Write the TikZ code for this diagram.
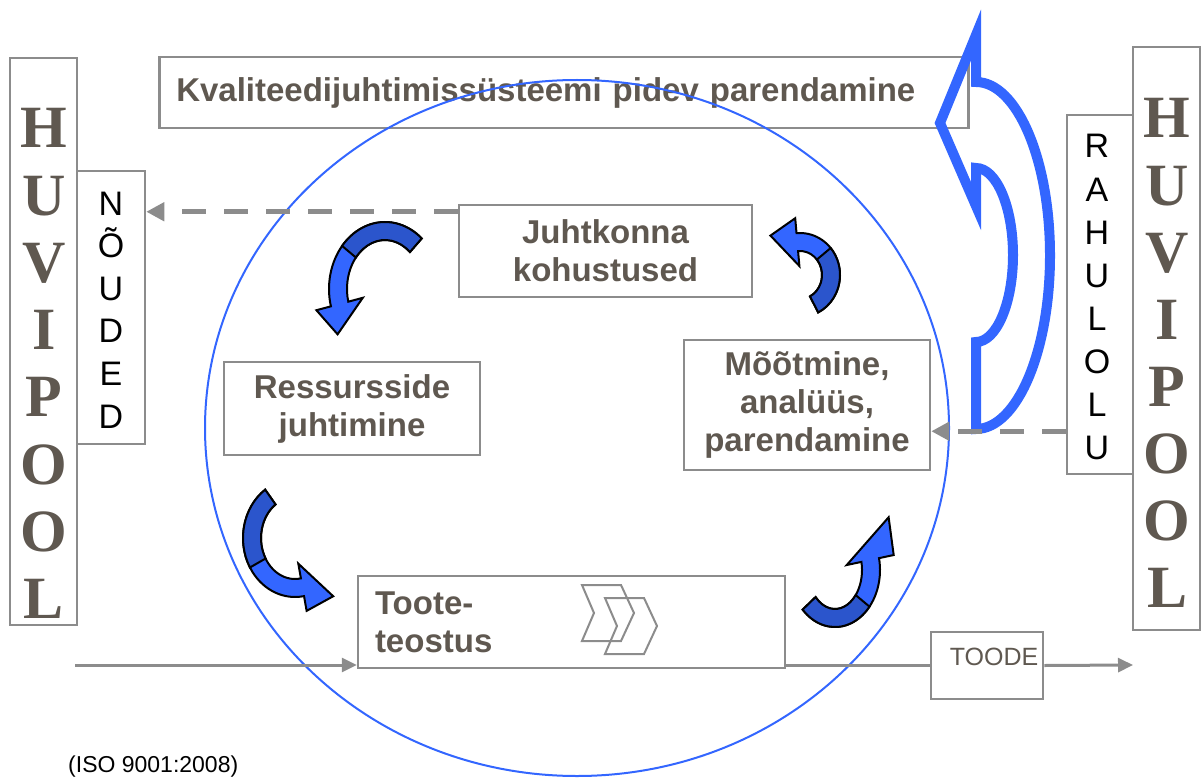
\documentclass[tikz,border=0pt]{standalone}
\usepackage{fontspec}
\setmainfont{Liberation Sans}
\newfontfamily\timesfont{Liberation Serif}
\usetikzlibrary{arrows.meta,calc}

\definecolor{boxgray}{HTML}{8C8C8C}
\definecolor{txtgray}{HTML}{5F5850}
\definecolor{ringblue}{HTML}{3366FF}
\definecolor{curldark}{HTML}{2B55CC}

% curved band arrow: (centre), rx, ry, start, end, tip angle, tip extra, dark split
\newcommand{\curlarrow}[8]{%
  \begin{scope}[shift={#1}]
    \filldraw[curl] (#4:{#2+9} and {#3+9})
      arc[start angle=#4, end angle=#5, x radius=#2+9, y radius=#3+9]
      -- (#5:{#2+24} and {#3+24}) -- (#6:{#2+#7} and {#3+#7})
      -- (#5:{#2-24} and {#3-24}) -- (#5:{#2-9} and {#3-9})
      arc[start angle=#5, end angle=#4, x radius=#2-9, y radius=#3-9] -- cycle;
    \filldraw[curl, fill=curldark] (#4:{#2+9} and {#3+9})
      arc[start angle=#4, end angle=#8, x radius=#2+9, y radius=#3+9]
      -- (#8:{#2-9} and {#3-9})
      arc[start angle=#8, end angle=#4, x radius=#2-9, y radius=#3-9] -- cycle;
  \end{scope}}

\begin{document}
\begin{tikzpicture}[x=1pt, y=-1pt, >={Triangle[length=15pt,width=14pt]},
  box/.style={draw=boxgray, line width=2.5pt, inner sep=0pt, text=txtgray,
    font=\fontsize{33}{38}\selectfont\bfseries, align=center},
  plainbox/.style={draw=boxgray, line width=2.5pt, inner sep=0pt},
  bigletter/.style={anchor=base, inner sep=0pt, text=txtgray,
    font=\timesfont\fontsize{60}{60}\selectfont\bfseries},
  vletter/.style={anchor=base, inner sep=0pt, font=\fontsize{34}{34}\selectfont},
  flow/.style={draw=boxgray, line width=3pt},
  dasharrow/.style={draw=boxgray, line width=5pt, dash pattern=on 24pt off 18pt,
    -{Triangle[length=18pt,width=18pt]}},
  ring/.style={draw=ringblue, line width=2pt},
  curl/.style={draw=black, line width=2pt, fill=ringblue, line join=miter},
  chevron/.style={draw=boxgray, line width=2pt},
  bigarrow/.style={draw=ringblue, line width=10pt}]
  \useasboundingbox (0,0) rectangle (1201,778);

  % interested parties
  \node[plainbox, minimum width=67pt, minimum height=567pt] (huvL) at (43.5,341.5) {};
  \foreach \ch [count=\i] in {H,U,V,I,P,O,O,L}
    \node[bigletter] (hl\i) at (44,{148+67.2*(\i-1)}) {\ch};
  \node[plainbox, minimum width=67pt, minimum height=583pt] (huvR) at (1166.5,338.5) {};
  \foreach \ch [count=\i] in {H,U,V,I,P,O,O,L}
    \node[bigletter] (hr\i) at (1167,{138+67.1*(\i-1)}) {\ch};

  \node[plainbox, minimum width=68pt, minimum height=273pt] (noud) at (111,307.5) {};
  \foreach \ch [count=\i] in {N,Õ,U,D,E,D}
    \node[vletter] (nl\i) at (111,{215+42.6*(\i-1)}) {\ch};
  \node[plainbox, minimum width=66pt, minimum height=359pt] (rahul) at (1100,294.5) {};
  \foreach \ch [count=\i] in {R,A,H,U,L,O,L,U}
    \node[vletter] (rl\i) at (1097,{158+43*(\i-1)}) {\ch};

  % process boxes
  \node[box, anchor=west, minimum height=71pt, text width=775pt, inner xsep=17pt,
    align=left] (title) at (158,92.5) {Kvaliteedijuhtimissüsteemi pidev parendamine};
  \node[box, minimum width=293pt, minimum height=92pt] (juht) at (605.5,251)
    {Juhtkonna\\kohustused};
  \node[box, minimum width=256pt, minimum height=93pt] (ress) at (352,408.5)
    {Ressursside\\juhtimine};
  \node[box, minimum width=246pt, minimum height=130pt] (moot) at (807,405)
    {Mõõtmine,\\analüüs,\\parendamine};
  \node[box, minimum height=92pt, text width=393pt, inner xsep=17pt, align=left]
    (toote) at (571.5,622) {Toote-\\teostus};
  \foreach \dx/\dy in {0/0,23/13}
    \draw[chevron] ($(582,585)+(\dx,\dy)$) -- ++(39,0) -- ++(13,28) -- ++(-13,28)
      -- ++(-39,0) -- ++(12,-28) -- cycle;

  \node[plainbox, minimum width=112pt, minimum height=67pt] (toode) at (987,665.5) {};
  \node[anchor=base, inner sep=0pt, text=txtgray, font=\fontsize{25}{25}\selectfont]
    (toodetxt) at (994,665) {TOODE};
  \node[anchor=base west, inner sep=0pt, font=\fontsize{23}{23}\selectfont]
    (iso) at (68,772) {(ISO 9001:2008)};

  % cycle
  \draw[ring] (577,428) ellipse [x radius=372, y radius=348];
  \curlarrow{(385,289)}{47}{58}{-49}{-195}{-219}{14}{-140}
  \curlarrow{(295,538)}{43}{50}{-125}{-280}{-306}{22}{-210}
  \curlarrow{(800,275)}{31}{33}{63}{-95}{-128}{17}{-40}
  \curlarrow{(835,570)}{36}{48}{136}{-12}{-40}{34}{40}

  % continual improvement
  \draw[bigarrow] (976,35) -- (976,82)
    arc[start angle=-90, end angle=90, x radius=74, y radius=173.5]
    -- (976,342) arc[start angle=90, end angle=-90, x radius=37, y radius=87]
    -- (976,206) -- (940,123) -- cycle;

  % flows
  \coordinate (in) at (75,665);
  \coordinate (out) at (1133,665);
  \draw[flow, ->] (in) -- (in -| toote.west);
  \draw[flow] (toote.east |- toode.west) -- (toode.west);
  \draw[flow, ->] (toode.east) -- (out);
  \coordinate (juhtout) at ($(juht.north west)+(0,8)$);
  \draw[dasharrow] (juhtout) -- (juhtout -| noud.east);
  \coordinate (rahulout) at ($(rahul.south west)+(0,-44)$);
  \draw[dasharrow] (rahulout) -- (rahulout -| moot.east);
\end{tikzpicture}
\end{document}
